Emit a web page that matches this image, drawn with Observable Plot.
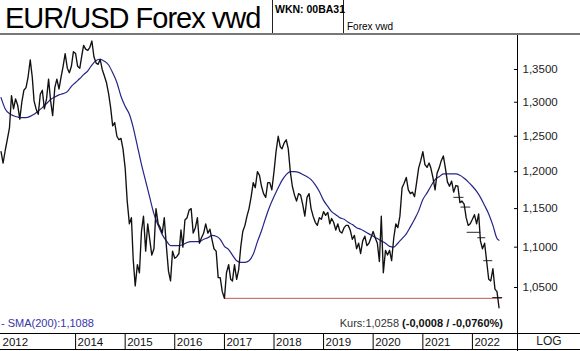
<!DOCTYPE html>
<html><head><meta charset="utf-8">
<script src="https://cdn.jsdelivr.net/npm/d3@7"></script>
<script src="https://cdn.jsdelivr.net/npm/@observablehq/plot@0.6"></script>
<style>
body{margin:0;background:#fff;}
#wrap{position:relative;width:580px;height:351px;overflow:hidden;font-family:"Liberation Sans",Arial,sans-serif;background:#fff;color:#000;}
#head{position:relative;height:36px;}
.abs{position:absolute;white-space:nowrap;}
#chart svg{display:block;}
</style></head>
<body><div id="wrap">
<div id="head">
 <div class="abs" style="left:5px;top:4px;font-size:29px;line-height:29px;letter-spacing:-1px;">EUR/USD Forex vwd</div>
 <div class="abs" style="left:272px;top:0;width:1px;height:33px;background:#222"></div>
 <div class="abs" style="left:343px;top:0;width:1px;height:33px;background:#222"></div>
 <div class="abs" style="left:275px;top:4px;font-size:10.5px;line-height:10.5px;font-weight:bold;">WKN: 00BA31</div>
 <div class="abs" style="left:347px;top:22px;font-size:10px;line-height:10px;">Forex vwd</div>
 <div class="abs" style="left:0;top:33px;width:580px;height:2px;background:#777"></div>
</div>
<div id="chart"></div>
<div class="abs" style="left:0;top:333px;width:580px;height:1px;background:#000"></div>
<div class="abs" style="left:0;top:349px;width:580px;height:1px;background:#000"></div>
<div class="abs" style="left:517px;top:35px;width:1px;height:316px;background:#000"></div>
<div class="abs" id="smaLegend" style="left:1px;top:318px;font-size:11px;line-height:11px;color:#3535a8;"></div>
<div class="abs" id="kursLegend" style="right:77px;top:318px;font-size:11px;line-height:11px;color:#333;"></div>
<div class="abs" style="left:518px;width:62px;top:335px;font-size:12px;line-height:13px;text-align:center;color:#222;">LOG</div>
</div>
<script>
// EUR/USD, values on the 1st and 16th of each month
const price2012 = [1.228, 1.212, 1.230, 1.245, 1.262, 1.310, 1.290, 1.305, 1.295, 1.275, 1.300, 1.318]; // Jul-Dec
const price2013 = [1.322, 1.338, 1.365, 1.338, 1.302, 1.290, 1.282, 1.312, 1.318, 1.290, 1.305, 1.335, 1.302, 1.280, 1.322, 1.335, 1.320, 1.338, 1.355, 1.375, 1.352, 1.345, 1.355, 1.378];
const price2014 = [1.375, 1.355, 1.352, 1.372, 1.388, 1.382, 1.380, 1.385, 1.395, 1.370, 1.360, 1.358, 1.366, 1.350, 1.340, 1.330, 1.313, 1.292, 1.265, 1.270, 1.250, 1.245, 1.247, 1.232];
const price2015 = [1.205, 1.160, 1.130, 1.138, 1.085, 1.052, 1.078, 1.068, 1.120, 1.140, 1.095, 1.130, 1.110, 1.090, 1.098, 1.150, 1.130, 1.125, 1.118, 1.138, 1.100, 1.070, 1.058, 1.095];
const price2016 = [1.086, 1.088, 1.092, 1.122, 1.100, 1.135, 1.138, 1.148, 1.150, 1.118, 1.125, 1.138, 1.105, 1.112, 1.118, 1.130, 1.118, 1.123, 1.110, 1.098, 1.095, 1.062, 1.062, 1.045];
const price2017 = [1.037, 1.068, 1.078, 1.060, 1.058, 1.078, 1.060, 1.072, 1.100, 1.120, 1.128, 1.140, 1.150, 1.165, 1.185, 1.178, 1.200, 1.195, 1.180, 1.170, 1.165, 1.185, 1.185, 1.175];
const price2018 = [1.200, 1.228, 1.250, 1.235, 1.232, 1.240, 1.245, 1.232, 1.200, 1.180, 1.168, 1.160, 1.170, 1.168, 1.155, 1.140, 1.165, 1.170, 1.150, 1.140, 1.132, 1.128, 1.138, 1.136];
const price2019 = [1.146, 1.141, 1.145, 1.130, 1.137, 1.132, 1.122, 1.130, 1.120, 1.118, 1.125, 1.128, 1.128, 1.122, 1.110, 1.115, 1.098, 1.105, 1.092, 1.108, 1.114, 1.102, 1.105, 1.112];
const price2020 = [1.120, 1.112, 1.105, 1.082, 1.140, 1.068, 1.096, 1.090, 1.096, 1.083, 1.112, 1.130, 1.125, 1.140, 1.178, 1.184, 1.192, 1.175, 1.170, 1.172, 1.166, 1.185, 1.205, 1.215];
const price2021 = [1.228, 1.210, 1.206, 1.212, 1.205, 1.192, 1.175, 1.198, 1.205, 1.215, 1.222, 1.205, 1.186, 1.180, 1.187, 1.172, 1.181, 1.180, 1.158, 1.160, 1.156, 1.138, 1.128, 1.130];
const price2022 = [1.136, 1.142, 1.130, 1.143, 1.108, 1.098, 1.105, 1.082, 1.060, 1.058, 1.073, 1.048, 1.045, 1.0258]; // Jan-Jul

// SMA(200), value on the 1st of each month
const sma2012 = [1.307, 1.290, 1.283, 1.280, 1.278, 1.277]; // Jul-Dec
const sma2013 = [1.277, 1.279, 1.282, 1.287, 1.292, 1.298, 1.304, 1.308, 1.311, 1.313, 1.316, 1.324];
const sma2014 = [1.330, 1.336, 1.342, 1.348, 1.357, 1.364, 1.366, 1.363, 1.357, 1.345, 1.330, 1.309];
const sma2015 = [1.294, 1.282, 1.263, 1.236, 1.210, 1.187, 1.165, 1.143, 1.128, 1.116, 1.108, 1.102];
const sma2016 = [1.102, 1.102, 1.103, 1.106, 1.107, 1.107, 1.107, 1.110, 1.112, 1.115, 1.114, 1.110];
const sma2017 = [1.101, 1.097, 1.090, 1.083, 1.081, 1.081, 1.083, 1.091, 1.107, 1.121, 1.138, 1.153];
const sma2018 = [1.166, 1.178, 1.188, 1.196, 1.200, 1.200, 1.199, 1.196, 1.193, 1.189, 1.182, 1.173];
const sma2019 = [1.161, 1.153, 1.146, 1.142, 1.138, 1.136, 1.132, 1.129, 1.125, 1.123, 1.120, 1.117];
const sma2020 = [1.114, 1.111, 1.108, 1.105, 1.101, 1.100, 1.105, 1.111, 1.117, 1.126, 1.136, 1.147];
const sma2021 = [1.162, 1.171, 1.180, 1.189, 1.193, 1.197, 1.197, 1.197, 1.197, 1.195, 1.191, 1.186];
const sma2022 = [1.180, 1.173, 1.165, 1.154, 1.143, 1.128, 1.111]; // Jan-Jul
const smaLastDate = "2022-07-16";
const smaLast = 1.1088;

// support line (red) and trailing stop steps
const supportLevel = 1.037;
const supportFrom = "2017-01-01";
const supportTo = "2022-08-10";
const stopFrom = ["2021-08-14", "2021-10-05", "2021-11-20", "2022-02-06", "2022-03-22", "2022-05-27"];
const stopTo = ["2021-10-27", "2021-12-16", "2022-02-28", "2022-04-06", "2022-05-27", "2022-08-08"];
const stopLevel = [1.165, 1.152, 1.119, 1.112, 1.083, 1.038];

// axes
const xStart = "2012-06-27";
const xEnd = "2022-11-29";
const yTicks = [1.05, 1.10, 1.15, 1.20, 1.25, 1.30, 1.35];
const yearStarts = ["2014-01-01", "2015-01-01", "2016-01-01", "2017-01-01", "2018-01-01", "2019-01-01", "2020-01-01", "2021-01-01", "2022-01-01"];
const yearLabels = ["2012", "2014", "2015", "2016", "2017", "2018", "2019", "2020", "2021", "2022"];
const yearLabelAt = ["2012-06-27", "2014-01-01", "2015-01-01", "2016-01-01", "2017-01-01", "2018-01-01", "2019-01-01", "2020-01-01", "2021-01-01", "2022-01-01"];

const smaText = "- SMA(200):1,1088";
const kursText = "Kurs:1,0258 ";
const kursChange = "(-0,0008 / -0,0760%)";

// ---- build tables ----
const priceBlocks = [[2012, 6, price2012], [2013, 0, price2013], [2014, 0, price2014], [2015, 0, price2015], [2016, 0, price2016], [2017, 0, price2017], [2018, 0, price2018], [2019, 0, price2019], [2020, 0, price2020], [2021, 0, price2021], [2022, 0, price2022]];
const priceRows = [];
for (const [yr, m0, arr] of priceBlocks) arr.forEach((v, i) => priceRows.push({date: new Date(Date.UTC(yr, m0 + Math.floor(i / 2), i % 2 ? 16 : 1)), value: v}));
const smaBlocks = [[2012, 6, sma2012], [2013, 0, sma2013], [2014, 0, sma2014], [2015, 0, sma2015], [2016, 0, sma2016], [2017, 0, sma2017], [2018, 0, sma2018], [2019, 0, sma2019], [2020, 0, sma2020], [2021, 0, sma2021], [2022, 0, sma2022]];
const smaRows = [];
for (const [yr, m0, arr] of smaBlocks) arr.forEach((v, i) => smaRows.push({date: new Date(Date.UTC(yr, m0 + i, 1)), value: v}));
smaRows.push({date: new Date(smaLastDate), value: smaLast});
const stopRows = stopLevel.map((v, i) => ({from: new Date(stopFrom[i]), to: new Date(stopTo[i]), level: v}));
const labelRows = yearLabels.map((t, i) => ({date: new Date(yearLabelAt[i]), text: t}));

const fmt = d => d.toFixed(4).replace(".", ",");

const chart = Plot.plot({
  width: 580, height: 315,
  marginLeft: 0, marginRight: 63, marginTop: 2, marginBottom: 18,
  style: {fontFamily: "Liberation Sans, Arial, sans-serif", fontSize: "11.5px", background: "transparent", overflow: "visible"},
  x: {type: "utc", domain: [new Date(xStart), new Date(xEnd)], label: null},
  y: {type: "log", domain: [0.9958, 1.3991], label: null},
  marks: [
    Plot.ruleY([supportLevel], {x1: new Date(supportFrom), x2: new Date(supportTo), stroke: "#c05a5a", strokeWidth: 1}),
    Plot.line(smaRows, {x: "date", y: "value", stroke: "#24248a", strokeWidth: 1.2, curve: "monotone-x"}),
    Plot.line(priceRows, {x: "date", y: "value", stroke: "#111", strokeWidth: 1.35}),
    Plot.link(stopRows, {x1: "from", x2: "to", y1: "level", y2: "level", stroke: "#111", strokeWidth: 0.9}),
    Plot.axisY({anchor: "right", ticks: yTicks, tickSize: -4, tickPadding: 9, tickFormat: fmt, fill: "#222", fontSize: 11.5, label: null}),
    Plot.axisX({ticks: yearStarts.map(d => new Date(d)), tickSize: 16, tickFormat: () => "", label: null, stroke: "#000"}),
    Plot.text(labelRows, {x: "date", text: "text", frameAnchor: "bottom", dy: 12, dx: 2, textAnchor: "start", fontSize: 11.5, fill: "#111"})
  ]
});
document.getElementById("chart").appendChild(chart);
document.getElementById("smaLegend").textContent = smaText;
const k = document.getElementById("kursLegend");
k.appendChild(document.createTextNode(kursText));
const b = document.createElement("b"); b.textContent = kursChange; b.style.color = "#111"; k.appendChild(b);
</script>
</body></html>
